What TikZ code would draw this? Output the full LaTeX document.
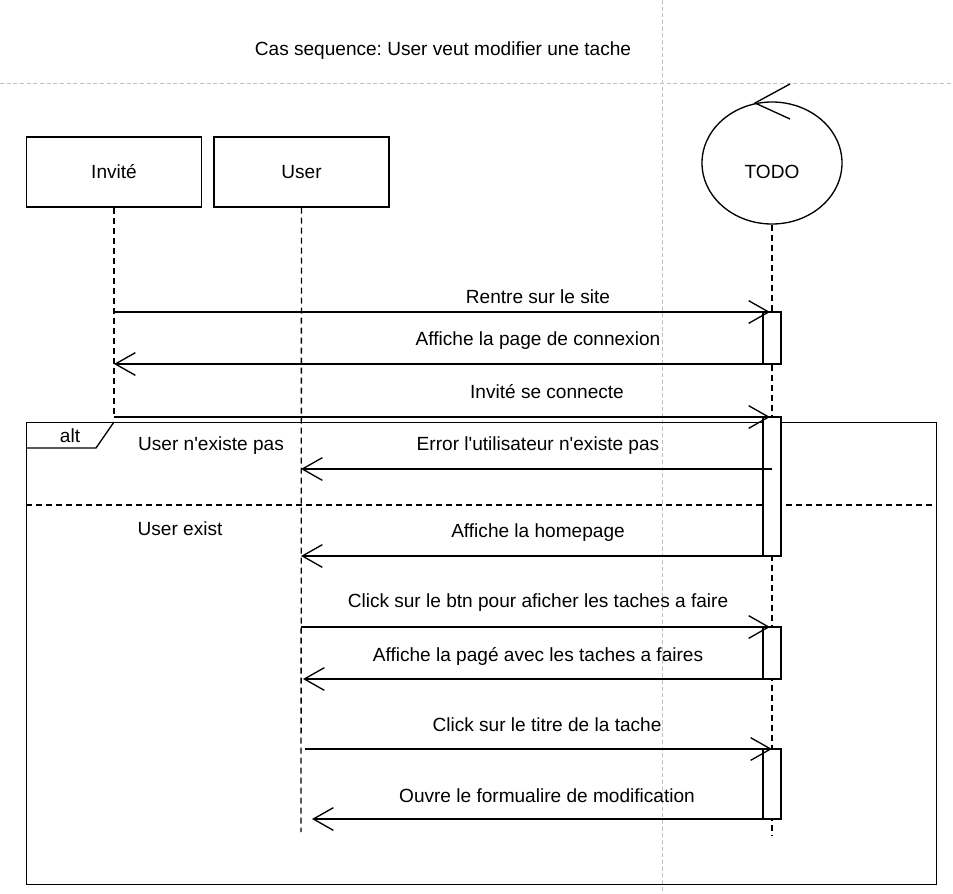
\documentclass[tikz,border=0pt]{standalone}
\usepackage{fontspec}
\setmainfont{Liberation Sans}[Ligatures=TeXOff]
\usetikzlibrary{arrows.meta,shapes.geometric}
\frenchspacing
\begin{document}
\begin{tikzpicture}[x=0.75pt,y=-0.75pt,
  font=\fontsize{14.3}{17}\selectfont,
  line width=1pt,
  pageguide/.style={draw=black!25,line width=0.6pt,dash pattern=on 3pt off 2pt},
  lifeline/.style={draw,line width=1pt,dash pattern=on 4.5pt off 3pt},
  actor/.style={draw,minimum width=131.25pt,minimum height=52.5pt,inner sep=0pt},
  actbar/.style={draw,fill=white,line width=1pt},
  msg/.style={-{Straight Barb[length=15pt,width=17pt,line width=1pt]}},
  lbl/.style={inner sep=0pt,anchor=center}]
\useasboundingbox (0,0) rectangle (953,893);
% page guides
\draw[pageguide] (662,0) -- (662,893);
\draw[pageguide] (0,83) -- (953,83);
% title
\node[lbl] (title) at (443,51) {Cas sequence: User veut modifier une tache};
% participants
\node[actor] (invite) at (114,172) {Invité};
\node[actor] (user) at (301.5,172) {User};
\node[draw,ellipse,minimum width=105pt,minimum height=91.5pt,inner sep=0pt] (todo) at (772,163) {};
\node[lbl] (todolbl) at (772,172) {TODO};
\coordinate (chevT) at (755,103);
\coordinate (chevA) at (790,84);
\coordinate (chevB) at (790,119);
\draw (chevA) -- (chevT) -- (chevB);
% lifeline ends
\coordinate (invEnd) at (114,417);
\coordinate (userEnd) at (301,832);
\coordinate (todoEnd) at (772,836);
\draw[lifeline] (invite.south) -- (invEnd);
\draw[lifeline] (user.south) -- (userEnd);
\draw[lifeline] (todo.south) -- (todoEnd);
% alt frame
\node[draw,minimum width=682.5pt,minimum height=346.5pt,inner sep=0pt,anchor=north west] (alt) at (26,422) {};
\coordinate (tabA) at (114,422);
\coordinate (tabB) at (96,448);
\coordinate (tabC) at (26,448);
\draw (tabA) -- (tabB) -- (tabC);
\node[lbl] (altlbl) at (70,436) {alt};
\coordinate (sepL) at (26,505);
\coordinate (sepR) at (936,505);
\draw[dash pattern=on 4.5pt off 3pt] (sepL) -- (sepR);
\node[lbl] (g1) at (211,446) {User n'existe pas};
\node[lbl] (g2) at (180,529) {User exist};
% activation bars
\draw[actbar] (763,312) rectangle (781,364);
\draw[actbar] (763,417) rectangle (781,556);
\draw[actbar] (763,627) rectangle (781,679);
\draw[actbar] (763,749) rectangle (781,819);
% message end points
\coordinate (i1) at (114,312); \coordinate (t1) at (770,312);
\coordinate (t2) at (763,364); \coordinate (i2) at (114,364);
\coordinate (i3) at (114,417); \coordinate (t3) at (770,417);
\coordinate (t4) at (772,469); \coordinate (u4) at (301,469);
\coordinate (t5) at (763,556); \coordinate (u5) at (301,556);
\coordinate (u6) at (301,627); \coordinate (t6) at (770,627);
\coordinate (t7) at (763,679); \coordinate (u7) at (303,679);
\coordinate (u8) at (305,749); \coordinate (t8) at (772,749);
\coordinate (t9) at (763,819); \coordinate (u9) at (312,819);
% messages
\draw[msg] (i1) -- (t1);
\draw[msg] (t2) -- (i2);
\draw[msg] (i3) -- (t3);
\draw[msg] (t4) -- (u4);
\draw[msg] (t5) -- (u5);
\draw[msg] (u6) -- (t6);
\draw[msg] (t7) -- (u7);
\draw[msg] (u8) -- (t8);
\draw[msg] (t9) -- (u9);
% message labels
\node[lbl] (m1) at (538,297) {Rentre sur le site};
\node[lbl] (m2) at (538,341) {Affiche la page de connexion};
\node[lbl] (m3) at (547,392) {Invité se connecte};
\node[lbl] (m4) at (538,446) {Error l'utilisateur n'existe pas};
\node[lbl] (m5) at (538,533) {Affiche la homepage};
\node[lbl] (m6) at (538,603) {Click sur le btn pour aficher les taches a faire};
\node[lbl] (m7) at (538,656) {Affiche la pagé avec les taches a faires};
\node[lbl] (m8) at (547,725) {Click sur le titre de la tache};
\node[lbl] (m9) at (547,796) {Ouvre le formualire de modification};
\end{tikzpicture}
\end{document}
